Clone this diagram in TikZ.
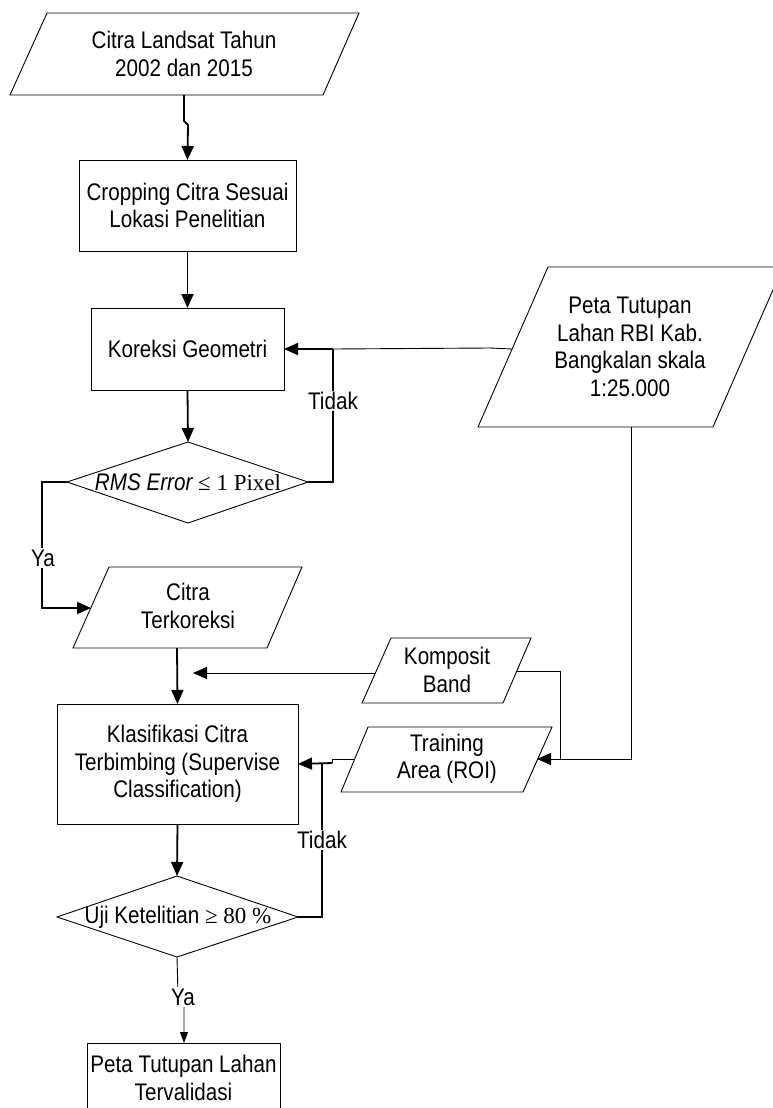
\documentclass[tikz,border=0pt]{standalone}
\usepackage{fontspec}
\setmainfont{Liberation Sans}[FakeStretch=0.86]
\newfontfamily\tnr{Liberation Serif}
\usetikzlibrary{arrows.meta}
\newcommand\fsz{\fontsize{24}{27.5}\selectfont}
\tikzset{
  shp/.style={draw, line width=0.9pt, line join=miter},
  box/.style={draw, line width=0.9pt, inner sep=0pt, outer sep=0pt, align=center, font=\fsz},
  txt/.style={align=center, font=\fsz, inner sep=0pt},
  flow/.style={line width=1.8pt, -{Triangle[length=14pt,width=12pt]}},
  flowplain/.style={line width=1.8pt},
  thinln/.style={line width=0.9pt},
  thinarr/.style={line width=0.9pt, -{Triangle[length=14pt,width=12pt]}},
  smallarr/.style={line width=0.9pt, -{Triangle[length=11pt,width=8pt]}},
  lbl/.style={fill=white, font=\fsz, inner sep=1.5pt},
}
\begin{document}
\begin{tikzpicture}[x=1pt,y=-1pt]
\useasboundingbox (0,0) rectangle (773,1108);
\clip (0,0) rectangle (773,1108);

% --- Input: Citra Landsat
\draw[shp] (47,13) -- (359,13) -- (323,95) -- (10,95) -- cycle;
\node[txt] (p1) at (184,54) {Citra Landsat Tahun\\2002 dan 2015};
\coordinate (p1s) at (184,95);

% --- Cropping
\node[box, minimum width=217pt, minimum height=91pt] (b2) at (187.5,205.5) {Cropping Citra Sesuai\\Lokasi Penelitian};

% --- Koreksi Geometri
\node[box, minimum width=193pt, minimum height=82pt] (b3) at (187.5,349) {Koreksi Geometri};

% --- Diamond 1
\draw[shp] (188,442) -- (308,482) -- (188,523) -- (67,482) -- cycle;
\node[txt] (d1) at (188,482) {\itshape RMS Error\upshape\ {\tnr\fontsize{23}{26}\selectfont ≤ 1 Pixel}};
\coordinate (d1n) at (188,442);
\coordinate (d1e) at (308,482);
\coordinate (d1w) at (67,482);

% --- Peta Tutupan RBI
\draw[shp] (548,267) -- (783,267) -- (713,427) -- (478,427) -- cycle;
\node[txt] (p4) at (630,347) {Peta Tutupan\\Lahan RBI Kab.\\Bangkalan skala\\1:25.000};
\coordinate (p4w) at (512,349);
\coordinate (p4s) at (631,427);

% --- Citra Terkoreksi
\draw[shp] (109,567) -- (302,567) -- (267,648) -- (73,648) -- cycle;
\node[txt] (p5) at (188,606) {Citra\\Terkoreksi};
\coordinate (p5w) at (91,608);
\coordinate (p5s) at (177,648);

% --- Komposit Band
\draw[shp] (391,638) -- (531,638) -- (503,703) -- (362,703) -- cycle;
\node[txt] (p6) at (447,670) {Komposit\\Band};
\coordinate (p6w) at (375,673);
\coordinate (p6e) at (517,671);
\coordinate (kbtip) at (193,673);

% --- Training Area
\draw[shp] (368,727) -- (552,727) -- (523,792) -- (341,792) -- cycle;
\node[txt] (p7) at (447,759) {Training\\Area (ROI)};
\coordinate (p7w) at (354,759);
\coordinate (p7e) at (537,759);

% --- Klasifikasi
\node[box, minimum width=241pt, minimum height=120pt] (b8) at (177.5,764) {Klasifikasi Citra\\Terbimbing (Supervise\\Classification)};

% --- Diamond 2
\draw[shp] (177,876) -- (298,917) -- (177,957) -- (57,917) -- cycle;
\node[txt] (d2) at (178,917) {Uji Ketelitian {\tnr\fontsize{23}{26}\selectfont ≥ 80 \%}};
\coordinate (d2n) at (177,876);
\coordinate (d2e) at (298,917);
\coordinate (d2s) at (177,957);

% --- Final output box (cut at the bottom)
\draw[shp] (87,1120) -- (87,1043) -- (280,1043) -- (280,1120);
\node[txt] (b9) at (183.5,1078) {Peta Tutupan Lahan\\Tervalidasi};
\coordinate (b9n) at (184,1043);

% ===== Connectors =====
\draw[flow] (p1s) -- (184,121) -- (188,125) -- (b2.north);
\draw[flow] (b2.south) -- (b3.north);
\draw[flow] (b3.south) -- (d1n);

% Tidak loop 1
\draw[flowplain] (d1e) -- (333,482) -- (333,349);
\draw[thinln] (p4w) -- (490,348) -- (333,349);
\draw[flow] (333,349) -- (b3.east);
\node[lbl] (t1) at (333,401) {Tidak};

% Ya branch 1
\draw[flow] (d1w) -- (42,482) -- (42,608) -- (p5w);
\node[lbl] (y1) at (43,558) {Ya};

\draw[flow] (p5s) -- (b8.north);

% Komposit band arrow
\draw[thinarr] (p6w) -- (kbtip);
\draw[thinln] (p6e) -- (560,671) -- (560,759);

% Peta to training
\draw[thinarr] (p4s) -- (631,759) -- (p7e);

% Training to Klasifikasi
\draw[thinln] (p7w) -- (332,759) -- (332,763);
\draw[flow] (332,763) -- (b8.east);

% Tidak loop 2
\draw[flowplain] (d2e) -- (322,917) -- (322,763);
\node[lbl] (t2) at (322,840) {Tidak};

\draw[flow] (b8.south) -- (d2n);

% Ya branch 2
\draw[smallarr] (d2s) -- (178,995) -- (184,1000) -- (b9n);
\node[lbl] (y2) at (183,997) {Ya};
\end{tikzpicture}
\end{document}
